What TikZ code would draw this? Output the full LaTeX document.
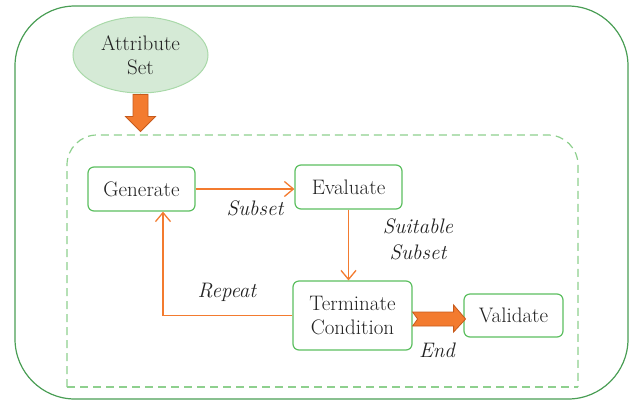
\documentclass[tikz,border=0pt]{standalone}
\usepackage{tikz}
\usetikzlibrary{shapes.geometric, arrows.meta}

\definecolor{framegreen}{HTML}{4A9E55}
\definecolor{boxgreen}{HTML}{5CBF60}
\definecolor{dashgreen}{HTML}{8ED08E}
\definecolor{ellborder}{HTML}{A9D9A9}
\definecolor{ellfill}{HTML}{D5EAD6}
\definecolor{arrorange}{HTML}{F37B2F}
\definecolor{arrdark}{HTML}{C65A1C}
\definecolor{textgray}{HTML}{222222}

\begin{document}
\begin{tikzpicture}[
    		x=1pt, y=-1pt,
    		font=\fontsize{21}{24}\selectfont,
    		every node/.style={text=textgray},
    		frame/.style={draw=framegreen, line width=1.2pt, rounded corners=60pt},
    		dashbox/.style={draw=dashgreen, line width=1.2pt, dash pattern=on 8pt off 5pt},
    		source/.style={ellipse, draw=ellborder, fill=ellfill, line width=1pt, minimum width=135pt, minimum height=76pt, inner sep=0pt, align=center},
    		process/.style={draw=boxgreen, line width=1.2pt, rounded corners=6pt, fill=white, inner sep=0pt, align=center},
    		to/.style={-{Straight Barb[length=9pt,width=15pt]}, draw=arrorange, line width=1.3pt},
    		bigarrow/.style={fill=arrorange, draw=arrdark, line width=0.8pt},
    		lbl/.style={font=\fontsize{21}{26}\selectfont\itshape, align=center}
    		]
    		
    		\useasboundingbox (0,0) rectangle (631,400);
    		
    		% frames
    		\draw[frame] (15,6) rectangle (628,399);
    		\draw[dashbox, rounded corners=30pt] (67,387) -- (67,135) -- (578,135) -- (578,387);
    		\draw[dashbox] (67,387) -- (578,387);
    		
    		% nodes
    		\node[source] (attr) at (140.5,55) {Attribute\\Set};
    		\node[process, minimum width=107pt, minimum height=44pt] (gen) at (141.5,189) {Generate};
    		\node[process, minimum width=107pt, minimum height=44pt] (eval) at (348.5,187) {Evaluate};
    		\node[process, minimum width=119pt, minimum height=69pt] (term) at (352.5,315.5) {Terminate\\Condition};
    		\node[process, minimum width=99pt, minimum height=43pt] (valid) at (513.5,315.5) {Validate};
    		\coordinate (bend) at (163,316);
    		
    		% connectors
    		\draw[to] (gen.east) -- (gen.east -| eval.west);
    		\draw[to] (eval.south) -- (eval.south |- term.north);
    		\draw[to] (term.west) -| (gen.south -| bend);
    		
    		\draw[bigarrow] (attr.south) ++(-7.5,1) -- ++(15,0) -- ++(0,22) -- ++(7.5,0)
    		    -- ++(-15,15) -- ++(-15,-15) -- ++(7.5,0) -- cycle;
    		\draw[bigarrow] (term.east) ++(0,-3.5) -- ++(41,0) -- ++(0,-7) -- ++(12,14)
    		    -- ++(-12,13) -- ++(0,-6) -- ++(-41,0) -- ++(5,-7) -- cycle;
    		
    		% labels
    		\node[lbl] (sub) at (255,208) {Subset};
    		\node[lbl] (suit) at (418,239) {Suitable\\Subset};
    		\node[lbl] (rep) at (227,292) {Repeat};
    		\node[lbl] (end) at (437,350) {End};
    		
\end{tikzpicture}
\end{document}
